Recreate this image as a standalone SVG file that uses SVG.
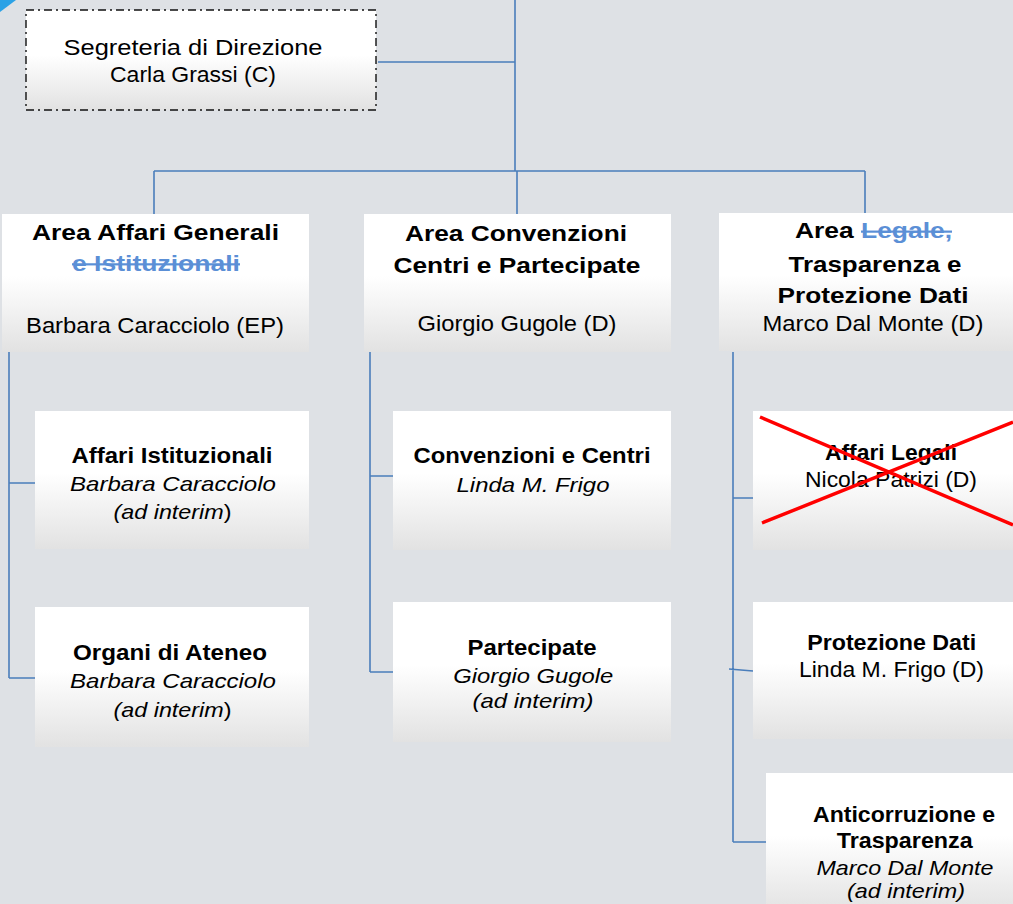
<svg xmlns="http://www.w3.org/2000/svg" width="1013" height="904" viewBox="0 0 1013 904">
<defs>
<linearGradient id="g" x1="0" y1="0" x2="0" y2="1">
<stop offset="0" stop-color="#ffffff"/>
<stop offset="0.45" stop-color="#ffffff"/>
<stop offset="1" stop-color="#e2e2e2"/>
</linearGradient>
<style>
.box{fill:url(#g);stroke:none}
.seg{fill:url(#g);stroke:#111;stroke-width:1.4;stroke-dasharray:8 4 2 4}
.c{fill:none;stroke:#4a7ebb;stroke-width:1.6}
text{font-family:"Liberation Sans",Arial,sans-serif;font-size:22px;fill:#000;text-anchor:middle}
.b{font-weight:bold}
.i{font-style:italic;font-size:21px}
.s{fill:#5b8fd6;text-decoration:line-through}
.x{stroke:#ff0000;stroke-width:3.5;fill:none}
</style>
</defs>
<rect width="1013" height="904" fill="#dee1e5"/>
<polygon points="0,0 16,0 0,12" fill="#2ba2e6"/>

<g id="connectors">
<path class="c" d="M515,0 V171 M378,62 H515 M154,171 H865 M154,171 V214 M517,171 V214 M865,171 V213"/>
<path class="c" d="M9,352 V678 M9,483 H35 M9,678 H35"/>
<path class="c" d="M370,352 V672 M370,476 H393 M370,672 H393"/>
<path class="c" d="M733,352 V842 M733,498 H753 M729,669 L753,671 M733,842 H766"/>
</g>

<g id="segreteria">
<rect class="seg" x="26" y="10" width="350" height="100"/>
<text x="193" y="55" font-size="24.5" textLength="259" lengthAdjust="spacingAndGlyphs">Segreteria di Direzione</text>
<text x="193" y="82" textLength="166" lengthAdjust="spacingAndGlyphs">Carla Grassi (C)</text>
</g>

<g id="area-affari-generali">
<rect class="box" x="2" y="214" width="307" height="138"/>
<text class="b" x="155.5" y="240" textLength="247" lengthAdjust="spacingAndGlyphs">Area Affari Generali</text>
<text class="b s" x="156" y="271" textLength="168" lengthAdjust="spacingAndGlyphs">e Istituzionali</text>
<text x="155" y="333" textLength="258" lengthAdjust="spacingAndGlyphs">Barbara Caracciolo (EP)</text>
</g>

<g id="area-convenzioni">
<rect class="box" x="364" y="214" width="307" height="138"/>
<text class="b" x="516" y="240.7" textLength="222" lengthAdjust="spacingAndGlyphs">Area Convenzioni</text>
<text class="b" x="517" y="272.7" textLength="247" lengthAdjust="spacingAndGlyphs">Centri e Partecipate</text>
<text x="517" y="330.7" textLength="199" lengthAdjust="spacingAndGlyphs">Giorgio Gugole (D)</text>
</g>

<g id="area-trasparenza">
<rect class="box" x="719" y="213" width="300" height="138"/>
<text class="b" x="795" y="238.3" style="text-anchor:start" textLength="157" lengthAdjust="spacingAndGlyphs">Area <tspan class="s">Legale,</tspan></text>
<text class="b" x="875" y="271.7" font-size="21" textLength="173" lengthAdjust="spacingAndGlyphs">Trasparenza e</text>
<text class="b" x="873" y="303.3" font-size="21" textLength="191" lengthAdjust="spacingAndGlyphs">Protezione Dati</text>
<text x="873" y="330.7" textLength="221" lengthAdjust="spacingAndGlyphs">Marco Dal Monte (D)</text>
</g>

<g id="affari-istituzionali">
<rect class="box" x="35" y="411" width="274" height="138"/>
<text class="b" x="172" y="462.7" textLength="201" lengthAdjust="spacingAndGlyphs">Affari Istituzionali</text>
<text class="i" x="173" y="491" textLength="206" lengthAdjust="spacingAndGlyphs">Barbara Caracciolo</text>
<text class="i" x="172.5" y="519" textLength="118" lengthAdjust="spacingAndGlyphs">(ad interim<tspan font-style="normal">)</tspan></text>
</g>

<g id="organi-ateneo">
<rect class="box" x="35" y="607" width="274" height="140"/>
<text class="b" x="170" y="660" textLength="194" lengthAdjust="spacingAndGlyphs">Organi di Ateneo</text>
<text class="i" x="173" y="688.3" textLength="206" lengthAdjust="spacingAndGlyphs">Barbara Caracciolo</text>
<text class="i" x="172.5" y="716.7" textLength="118" lengthAdjust="spacingAndGlyphs">(ad interim<tspan font-style="normal">)</tspan></text>
</g>

<g id="convenzioni-centri">
<rect class="box" x="393" y="411" width="278" height="139"/>
<text class="b" x="532" y="463.3" textLength="237" lengthAdjust="spacingAndGlyphs">Convenzioni e Centri</text>
<text class="i" x="533" y="491.7" textLength="153" lengthAdjust="spacingAndGlyphs">Linda M. Frigo</text>
</g>

<g id="partecipate">
<rect class="box" x="393" y="602" width="278" height="140"/>
<text class="b" x="532" y="655" textLength="129" lengthAdjust="spacingAndGlyphs">Partecipate</text>
<text class="i" x="533.3" y="683.3" textLength="160" lengthAdjust="spacingAndGlyphs">Giorgio Gugole</text>
<text class="i" x="533" y="708.3" textLength="121" lengthAdjust="spacingAndGlyphs">(ad interim)</text>
</g>

<g id="affari-legali">
<rect class="box" x="753" y="411" width="270" height="139"/>
<text class="b" x="891" y="460" font-size="23" textLength="132" lengthAdjust="spacingAndGlyphs">Affari Legali</text>
<text x="891" y="486.7" font-size="23" textLength="172" lengthAdjust="spacingAndGlyphs">Nicola Patrizi (D)</text>
<path class="x" d="M760,417 L1013,525 M762,523 L1013,422"/>
</g>

<g id="protezione-dati">
<rect class="box" x="753" y="602" width="270" height="137"/>
<text class="b" x="891.7" y="650" textLength="169" lengthAdjust="spacingAndGlyphs">Protezione Dati</text>
<text x="891.5" y="676.7" textLength="185" lengthAdjust="spacingAndGlyphs">Linda M. Frigo (D)</text>
</g>

<g id="anticorruzione">
<rect class="box" x="766" y="773" width="260" height="140"/>
<text class="b" x="904" y="821.7" textLength="182" lengthAdjust="spacingAndGlyphs">Anticorruzione e</text>
<text class="b" x="904.7" y="848.3" textLength="136" lengthAdjust="spacingAndGlyphs">Trasparenza</text>
<text class="i" x="905" y="875" textLength="177" lengthAdjust="spacingAndGlyphs">Marco Dal Monte</text>
<text class="i" x="906" y="898.3" textLength="118" lengthAdjust="spacingAndGlyphs">(ad interim)</text>
</g>
</svg>
